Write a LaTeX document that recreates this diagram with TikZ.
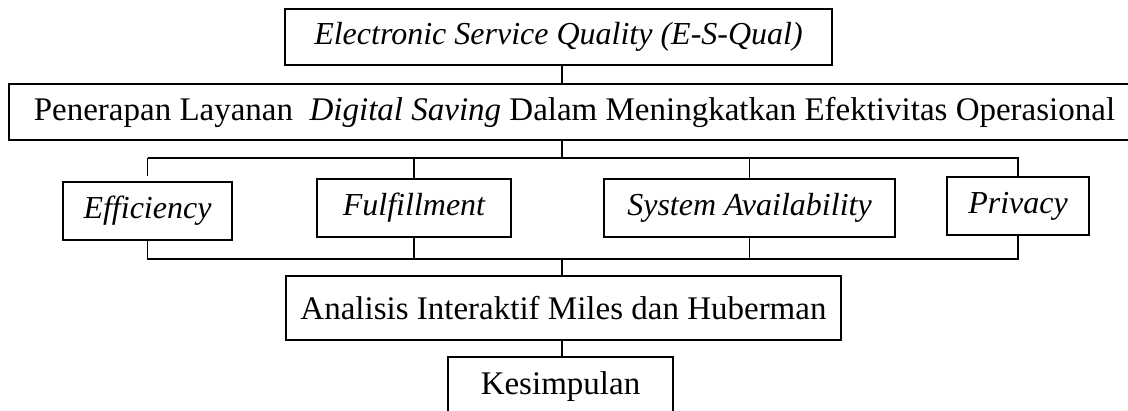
\documentclass[tikz,border=0pt]{standalone}
\usepackage{fontspec}
\setmainfont{Liberation Serif}
\begin{document}
\begin{tikzpicture}[x=1pt,y=-1pt,
  box/.style={draw,line width=1.1pt,inner sep=0pt,font=\fontsize{33}{38}\selectfont},
  ibox/.style={box,font=\fontsize{32}{37}\selectfont\itshape},
  conn/.style={line width=1.1pt}]
\useasboundingbox (0,0) rectangle (1128,410);
\node[ibox,minimum width=547,minimum height=56] (esq) at (558.5,37) {Electronic Service Quality (E-S-Qual)};
\node[box,minimum width=1131,minimum height=56] (pen) at (574.5,112) {Penerapan Layanan~ \textit{Digital Saving} Dalam Meningkatkan Efektivitas Operasional};
\node[ibox,minimum width=169,minimum height=58] (eff) at (147.5,211) {Efficiency};
\node[ibox,minimum width=194,minimum height=58] (ful) at (414,208) {Fulfillment};
\node[ibox,minimum width=291,minimum height=58] (sys) at (749.5,208) {System Availability};
\node[ibox,minimum width=142,minimum height=58] (pri) at (1018,206) {Privacy};
\node[box,minimum width=555,minimum height=64] (ana) at (563.5,308) {Analisis Interaktif Miles dan Huberman};
\node[box,minimum width=225,minimum height=60] (kes) at (560.5,387) {Kesimpulan};
\coordinate (ub) at (562,158);
\coordinate (lb) at (562,259);
% top to second
\draw[conn] (esq.south -| ub) -- (pen.north -| ub);
% second to upper bus
\draw[conn] (pen.south -| ub) -- (ub);
\draw[conn,shorten >=5pt] (eff.north |- ub) -- (eff.north);
\draw[conn] (eff.north |- ub) -- (pri.north |- ub) -- (pri.north);
\draw[conn] (ful.north |- ub) -- (ful.north);
\draw[conn] (sys.north |- ub) -- (sys.north);
% lower bus
\draw[conn] (eff.south) -- (eff.south |- lb) -- (pri.south |- lb) -- (pri.south);
\draw[conn] (ful.south) -- (ful.south |- lb);
\draw[conn] (sys.south) -- (sys.south |- lb);
\draw[conn] (lb) -- (ana.north -| lb);
\draw[conn] (ana.south -| lb) -- (kes.north -| lb);
\end{tikzpicture}
\end{document}
